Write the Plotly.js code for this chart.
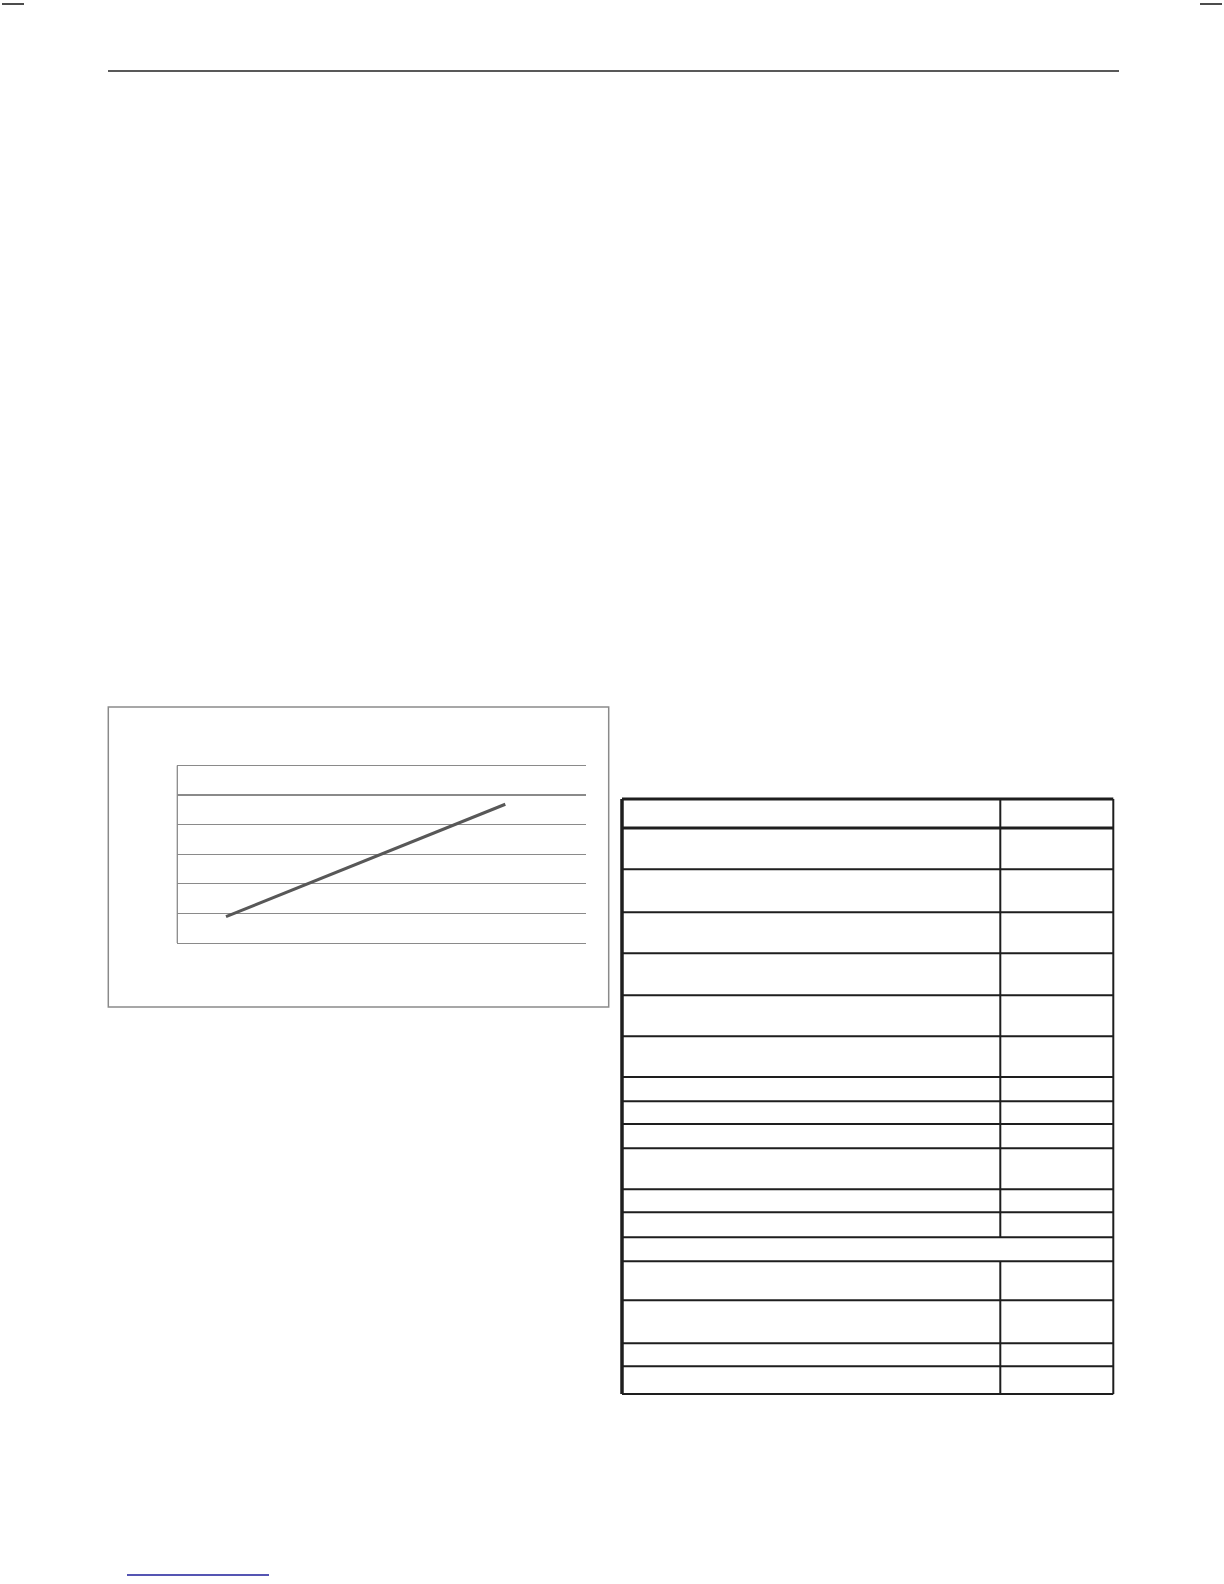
<!DOCTYPE html>
<html>
<head>
<meta charset="utf-8">
<script src="https://cdn.plot.ly/plotly-3.0.1.min.js"></script>
<style>
html,body{margin:0;padding:0;background:#fff;}
#chart{width:1224px;height:1584px;}
</style>
</head>
<body>
<div id="chart"></div>
<script>
// Data (no labels are printed on the chart)
const xValues = [1, 2, 3, 4, 5, 6, 7];
const seriesValues = [0.89, 1.52, 2.16, 2.79, 3.42, 4.05, 4.69];
const yTickValues = [0, 1, 2, 3, 4, 5, 6];

// Page layout (pixels)
const W = 1224, H = 1584;
const px = v => v / W;
const py = v => 1 - v / H;

const tableLeft = 622, tableRight = 1113.3, tableTop = 799, tableBottom = 1394, colDiv = 1000.3;
const rowLines = [869.3, 912.3, 953.3, 995.3, 1036.3, 1077, 1101.3, 1124, 1148.3, 1189.3, 1212.3, 1237.3, 1261.3, 1300.3, 1343.3, 1366.3];
const headerBottom = 828;

const shapes = [];
function hline(y, x0, x1, w, c) {
  shapes.push({type:'line', xref:'paper', yref:'paper', x0:px(x0), x1:px(x1), y0:py(y), y1:py(y), line:{color:c, width:w}});
}
function vline(x, y0, y1, w, c) {
  shapes.push({type:'line', xref:'paper', yref:'paper', x0:px(x), x1:px(x), y0:py(y0), y1:py(y1), line:{color:c, width:w}});
}
// page decorations
hline(4, 2, 24, 1.5, '#111');
hline(4, 1200, 1222, 1.5, '#111');
hline(71, 108, 1119, 1.5, '#222');
hline(1575, 127, 269, 1.6, '#1c1c9a');
// chart frame
shapes.push({type:'rect', xref:'paper', yref:'paper', x0:px(108.3), x1:px(608.7), y0:py(1007), y1:py(707), line:{color:'#8a8a8a', width:1.5}, fillcolor:'rgba(0,0,0,0)'});
// table
const tc = '#1e1e1e';
hline(tableTop, tableLeft, tableRight, 3, tc);
hline(headerBottom, tableLeft, tableRight, 3, tc);
rowLines.forEach(y => hline(y, tableLeft, tableRight, 2, tc));
hline(tableBottom, tableLeft, tableRight, 2, tc);
vline(tableLeft, tableTop, tableBottom, 3.5, tc);
vline(tableRight, tableTop, tableBottom, 2, tc);
vline(colDiv, tableTop, 1237.3, 2, tc);
vline(colDiv, 1261.3, tableBottom, 2, tc);
// plot-area left edge (from 0 to top gridline)
vline(177.3, 943, 765.5, 1.3, '#8a8a8a');

const trace = {
  x: xValues,
  y: seriesValues,
  type: 'scatter',
  mode: 'lines',
  line: {color:'#585858', width:3},
  hoverinfo: 'skip',
  showlegend: false
};

// y range padded so the top gridline (6) is drawn inside the plot
const yMax = 6.2;
const unitPx = (943 - 765.5) / 6;

const layout = {
  width: W, height: H,
  margin: {l:0, r:0, t:0, b:0, pad:0},
  paper_bgcolor: '#ffffff',
  plot_bgcolor: 'rgba(0,0,0,0)',
  showlegend: false,
  xaxis: {
    domain: [px(177.3), px(585.7)],
    range: [-0.046, 8.727],
    showgrid: false, zeroline: false,
    showline: true, linecolor: '#8a8a8a', linewidth: 1.3,
    showticklabels: false, ticks: ''
  },
  yaxis: {
    domain: [py(943), py(943 - yMax * unitPx)],
    range: [0, yMax],
    tickvals: yTickValues,
    showgrid: true, gridcolor: '#8a8a8a', gridwidth: 1.3,
    zeroline: false,
    showline: false,
    showticklabels: false, ticks: ''
  },
  shapes: shapes
};

Plotly.newPlot('chart', [trace], layout, {displayModeBar:false, staticPlot:true});
</script>
</body>
</html>
